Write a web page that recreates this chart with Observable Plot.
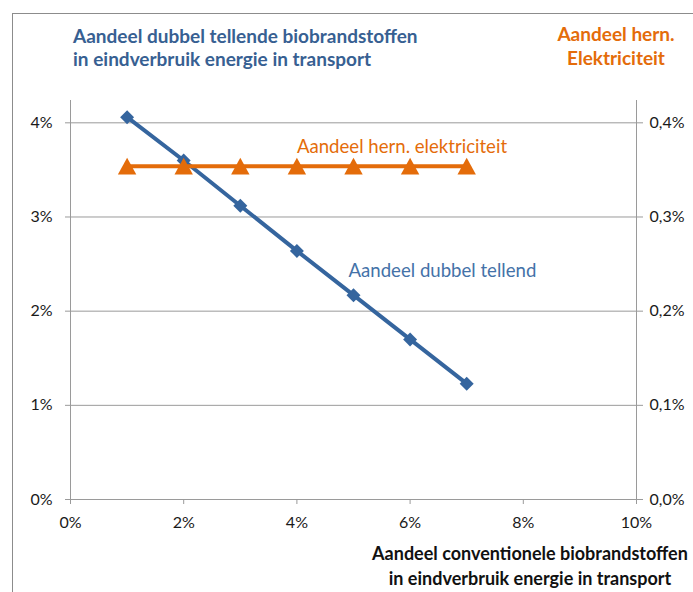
<!DOCTYPE html>
<html>
<head>
<meta charset="utf-8">
<script src="https://cdn.jsdelivr.net/npm/d3@7"></script>
<script src="https://cdn.jsdelivr.net/npm/@observablehq/plot@0.6"></script>
<style>
  html, body { margin: 0; padding: 0; background: #fff; }
  #wrap { position: relative; width: 693px; height: 592px; overflow: hidden; font-family: Lato, "Open Sans", sans-serif; }
  #frame { position: absolute; left: 12px; top: 13px; width: 700px; height: 600px; border: 1px solid #8c8c8c; box-sizing: border-box; }
  .t { position: absolute; font-weight: bold; white-space: nowrap; }
  #tl { left: 73px; top: 24px; color: #376092; font-size: 19px; line-height: 23px; }
  #tr { left: 466px; width: 300px; top: 21.5px; color: #E46C0A; font-size: 19px; line-height: 24px; text-align: center; }
  #bt { left: 280px; width: 500px; top: 540.5px; color: #111; font-size: 18px; text-align: center; line-height: 25px; }
  svg { position: absolute; left: 0; top: 0; }
</style>
</head>
<body>
<div id="wrap">
  <div id="frame"></div>
  <div id="chart"></div>
  <div class="t" id="tl">Aandeel dubbel tellende biobrandstoffen<br>in eindverbruik energie in transport</div>
  <div class="t" id="tr">Aandeel hern.<br>Elektriciteit</div>
  <div class="t" id="bt">Aandeel conventionele biobrandstoffen<br>in eindverbruik energie in transport</div>
</div>
<script>
// Data (percentages)
const conventioneel = [1, 2, 3, 4, 5, 6, 7];               // x: aandeel conventionele biobrandstoffen (%)
const dubbelTellend = [4.06, 3.60, 3.12, 2.64, 2.17, 1.70, 1.23]; // left axis (%)
const hernElektriciteit = [0.354, 0.354, 0.354, 0.354, 0.354, 0.354, 0.354]; // right axis (%)
const xTicks = [0, 2, 4, 6, 8, 10];
const yTicksLeft = [0, 1, 2, 3, 4];        // 0% .. 4%
const yTicksRightLabels = ["0,0%", "0,1%", "0,2%", "0,3%", "0,4%"];
const labelHern = "Aandeel hern. elektriciteit";
const labelDubbel = "Aandeel dubbel tellend";

const RATIO = 10; // right axis 0.4% maps to left axis 4%

const blue = conventioneel.map((x, i) => ({x, y: dubbelTellend[i]}));
const orange = conventioneel.map((x, i) => ({x, y: hernElektriciteit[i] * RATIO}));

const BLUE = "#35659E";
const ORANGE = "#E46C0A";
const GRID = "#9a9a9a";

// Triangle centred on its bounding box (Excel-like marker)
const triangle = {
  draw(context, size) {
    const w = Math.sqrt(size) * 1.06;
    const h = w * 0.9;
    context.moveTo(0, -h / 2);
    context.lineTo(w / 2, h / 2);
    context.lineTo(-w / 2, h / 2);
    context.closePath();
  }
};

const chart = Plot.plot({
  width: 693,
  height: 592,
  marginLeft: 70,
  marginRight: 57,
  marginTop: 100,
  marginBottom: 93,
  style: { fontFamily: "Lato, 'Open Sans', sans-serif", background: "transparent", overflow: "visible" },
  x: { domain: [0, 10] },
  y: { domain: [0, 4.237] },
  marks: [
    Plot.ruleY([1, 2, 3, 4], { stroke: GRID, strokeWidth: 1 }),
    Plot.ruleY([0], { stroke: GRID, strokeWidth: 1 }),
    Plot.ruleX([0, 10], { stroke: GRID, strokeWidth: 1 }),
    Plot.axisY({ anchor: "left", ticks: yTicksLeft, tickFormat: d => d + "%", tickSize: 5, tickPadding: 13,
                 fontSize: 16, stroke: GRID, fill: "#1a1a1a", label: null }),
    Plot.axisY({ anchor: "right", ticks: yTicksLeft, tickFormat: d => yTicksRightLabels[yTicksLeft.indexOf(d)],
                 tickSize: 6, tickPadding: 7, fontSize: 16, stroke: GRID, fill: "#1a1a1a", label: null }),
    Plot.axisX({ anchor: "bottom", ticks: xTicks, tickFormat: d => d + "%", tickSize: 5, tickPadding: 12,
                 fontSize: 16, stroke: GRID, fill: "#1a1a1a", label: null }),
    Plot.line(blue, { x: "x", y: "y", stroke: BLUE, strokeWidth: 4 }),
    Plot.dot(blue, { x: "x", y: "y", symbol: "diamond2", r: 6.3, fill: BLUE, stroke: null }),
    Plot.line(orange, { x: "x", y: "y", stroke: ORANGE, strokeWidth: 4 }),
    Plot.dot(orange, { x: "x", y: "y", symbol: triangle, r: 9.8, fill: ORANGE, stroke: null }),
    Plot.text([orange[3]], { x: "x", y: "y", text: () => labelHern, textAnchor: "start", dx: 0, dy: -19,
                             fill: ORANGE, fontSize: 18.6 }),
    Plot.text([blue[4]], { x: "x", y: "y", text: () => labelDubbel, textAnchor: "start", dx: -5, dy: -24,
                           fill: "#4472A8", fontSize: 18.6 })
  ]
});
document.getElementById("chart").appendChild(chart);
</script>
</body>
</html>
